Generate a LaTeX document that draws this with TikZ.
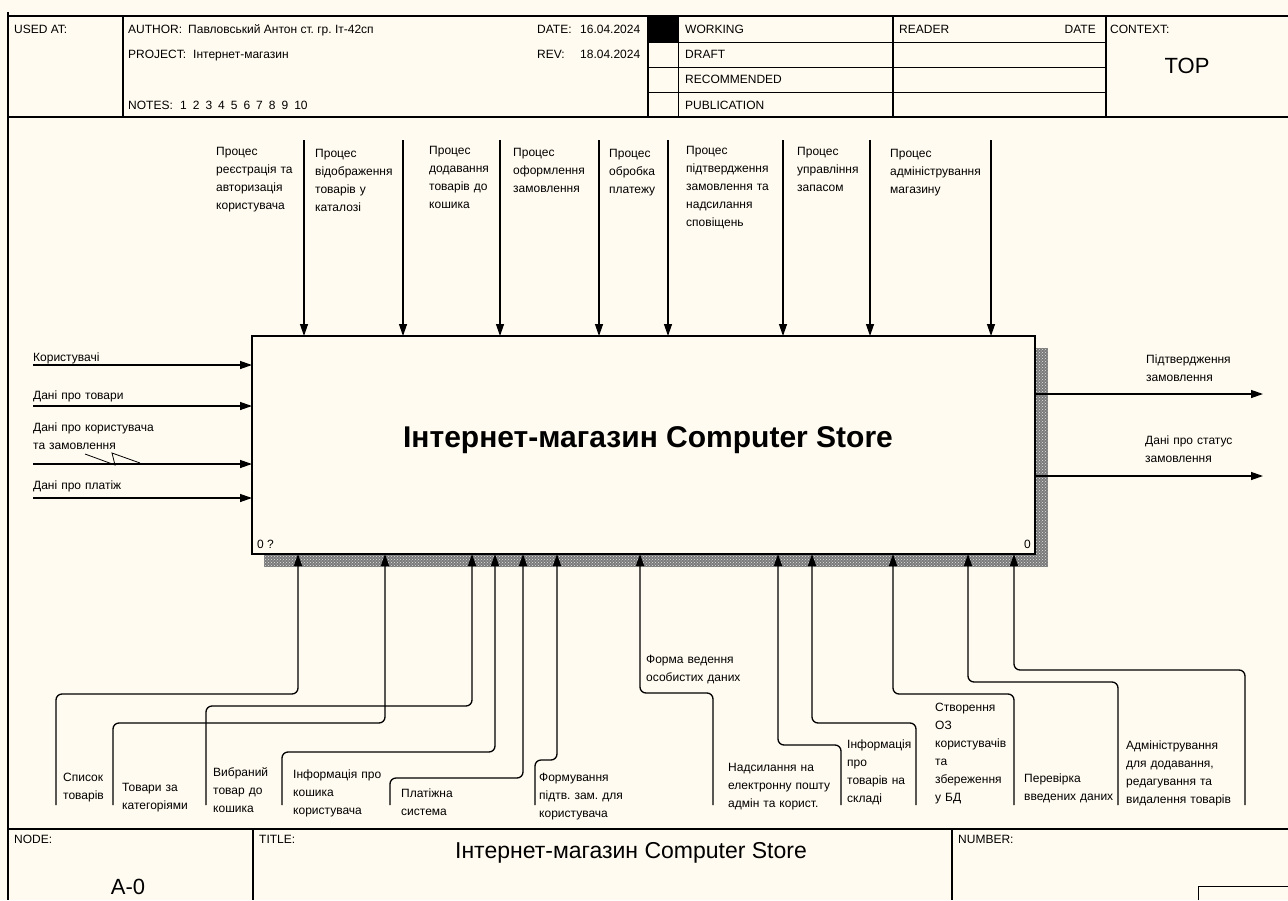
\documentclass[tikz,border=0pt]{standalone}
\usepackage{fontspec}
\setmainfont{Liberation Sans}
\usetikzlibrary{arrows.meta,patterns}
\definecolor{paper}{RGB}{255,251,240}
\frenchspacing
\begin{document}
\begin{tikzpicture}[x=1pt,y=-1pt,
  lbl/.style={anchor=base west, inner sep=0pt, text width=150pt, align=left, font=\fontsize{12}{18}\selectfont},
  hdr/.style={anchor=base west, inner sep=0pt, font=\fontsize{12}{14}\selectfont},
  arr/.style={line width=1.3pt, -{Triangle[length=12pt,width=8pt]}},
  rarr/.style={arr, rounded corners=6pt},
  frm/.style={line width=1.6pt},
  thn/.style={line width=1pt}]
\useasboundingbox (0,0) rectangle (1288,900);
\fill[paper] (0,0) rectangle (1288,900);

% ---------- header ----------
\draw[frm] (8,12) -- (8,900);
\draw[frm] (8,16) -- (1288,16);
\draw[frm] (8,117) -- (1288,117);
\draw[frm] (123,16) -- (123,117);
\draw[frm] (648,16) -- (648,117);
\draw[thn] (678,16) -- (678,117);
\draw[frm] (893,16) -- (893,117);
\draw[frm] (1106,16) -- (1106,117);
\foreach \y in {42,67,92} \draw[thn] (648,\y) -- (1106,\y);
\fill (648,16) rectangle (678,42);

\node[hdr] (usedat) at (14,33) {USED AT:};
\node[hdr] (author) at (128,33) {AUTHOR:};
\node[hdr] (authorv) at (188,33) {Павловський Антон ст. гр. Іт-42сп};
\node[hdr] (project) at (128,58) {PROJECT:};
\node[hdr] (projectv) at (193,58) {Інтернет-магазин};
\node[hdr] (notes) at (128,109) {NOTES:};
\node[hdr] (notesv) at (180,109) {1\hspace{6pt}2\hspace{6pt}3\hspace{6pt}4\hspace{6pt}5\hspace{6pt}6\hspace{6pt}7\hspace{6pt}8\hspace{6pt}9\hspace{6pt}10};
\node[hdr] (date) at (537,33) {DATE:};
\node[hdr] (datev) at (580,33) {16.04.2024};
\node[hdr] (rev) at (537,58) {REV:};
\node[hdr] (revv) at (580,58) {18.04.2024};
\node[hdr] (working) at (685,33) {WORKING};
\node[hdr] (draft) at (685,58) {DRAFT};
\node[hdr] (recommended) at (685,83) {RECOMMENDED};
\node[hdr] (publication) at (685,109) {PUBLICATION};
\node[hdr] (reader) at (899,33) {READER};
\node[hdr, anchor=base east] (rdate) at (1096,33) {DATE};
\node[hdr] (context) at (1110,33) {CONTEXT:};
\node[inner sep=0pt, font=\fontsize{22}{24}\selectfont] (top) at (1187,66) {TOP};

% ---------- main box ----------
\fill[black!52] (264,348) rectangle (1048,567);
\fill[pattern=crosshatch dots, pattern color=white!80!gray] (264,348) rectangle (1048,567);
\node[draw, line width=2pt, fill=paper, anchor=north west, inner sep=0pt, outer sep=0pt,
      minimum width=783pt, minimum height=218pt] (box) at (252,336) {};
\node[font=\bfseries\fontsize{30}{34}\selectfont, inner sep=0pt] (title) at (648,440) {Інтернет-магазин Computer Store};
\node[hdr] (num0) at (257,548) {0 ?};
\node[hdr] (num1) at (1024,548) {0};

% ---------- controls ----------
\foreach \cx [count=\i] in {304,403,500,599,668,783,870,991} {
  \coordinate (c\i) at (\cx,140);
  \draw[arr] (c\i) -- (c\i |- box.north);
}
\node[lbl] (cl1) at (216,155) {Процес\\реєстрація та\\авторизація\\користувача};
\node[lbl] (cl2) at (315,157) {Процес\\відображення\\товарів у\\каталозі};
\node[lbl] (cl3) at (429,154) {Процес\\додавання\\товарів до\\кошика};
\node[lbl] (cl4) at (513,156) {Процес\\оформлення\\замовлення};
\node[lbl] (cl5) at (609,157) {Процес\\обробка\\платежу};
\node[lbl] (cl6) at (686,154) {Процес\\підтвердження\\замовлення та\\надсилання\\сповіщень};
\node[lbl] (cl7) at (797,155) {Процес\\управління\\запасом};
\node[lbl] (cl8) at (890,157) {Процес\\адміністрування\\магазину};

% ---------- inputs ----------
\foreach \iy [count=\i] in {365,406,464,498} {
  \coordinate (i\i) at (33,\iy);
  \draw[arr] (i\i) -- (i\i -| box.west);
}
\node[lbl] (il1) at (33,361) {Користувачі};
\node[lbl] (il2) at (33,399) {Дані про товари};
\node[lbl] (il3) at (33,431) {Дані про користувача\\та замовлення};
\node[lbl] (il4) at (33,489) {Дані про платіж};
\coordinate (sq1) at (85,454);
\coordinate (sq2) at (115,465);
\coordinate (sq3) at (112,453);
\coordinate (sq4) at (140,463);
\draw[line width=0.8pt] (sq1) -- (sq2) -- (sq3) -- (sq4);

% ---------- outputs ----------
\foreach \oy [count=\i] in {394,476} {
  \coordinate (o\i) at (1263,\oy);
  \draw[arr] (o\i -| box.east) -- (o\i);
}
\node[lbl] (ol1) at (1146,363) {Підтвердження\\замовлення};
\node[lbl] (ol2) at (1145,444) {Дані про статус\\замовлення};

% ---------- mechanisms ----------
\foreach \sx/\hy/\ax [count=\i] in {56/694/298, 113/723/385, 206/706/472, 282/752/495,
    390/778/523, 535/760/557, 713/693/640, 841/745/778, 916/723/812, 1014/694/893,
    1118/682/968, 1245/670/1014} {
  \coordinate (m\i) at (\sx,805);
  \coordinate (k\i) at (\ax,\hy);
  \draw[rarr] (m\i) |- (k\i) -- (k\i |- box.south);
}
\node[lbl] (ml1) at (63,781) {Список\\товарів};
\node[lbl] (ml2) at (122,791) {Товари за\\категоріями};
\node[lbl] (ml3) at (213,776) {Вибраний\\товар до\\кошика};
\node[lbl] (ml4) at (293,778) {Інформація про\\кошика\\користувача};
\node[lbl] (ml5) at (401,797) {Платіжна\\система};
\node[lbl] (ml6) at (539,781) {Формування\\підтв. зам. для\\користувача};
\node[lbl] (ml7) at (646,663) {Форма ведення\\особистих даних};
\node[lbl] (ml8) at (728,771) {Надсилання на\\електронну пошту\\адмін та корист.};
\node[lbl] (ml9) at (847,748) {Інформація\\про\\товарів на\\складі};
\node[lbl] (ml10) at (935,711) {Створення\\ОЗ\\користувачів\\та\\збереження\\у БД};
\node[lbl] (ml11) at (1024,782) {Перевірка\\введених даних};
\node[lbl] (ml12) at (1126,749) {Адміністрування\\для додавання,\\редагування та\\видалення товарів};

% ---------- footer ----------
\draw[frm] (8,829) -- (1288,829);
\draw[frm] (253,829) -- (253,900);
\draw[frm] (952,829) -- (952,900);
\draw[thn] (1198,900) -- (1198,886) -- (1288,886);
\node[hdr] (nodel) at (14,843) {NODE:};
\node[hdr] (titlel) at (259,843) {TITLE:};
\node[hdr] (numberl) at (958,843) {NUMBER:};
\node[inner sep=0pt, font=\fontsize{22}{24}\selectfont] (nodev) at (128,887) {A-0};
\node[inner sep=0pt, font=\fontsize{23}{26}\selectfont] (titlev) at (631,853) {Інтернет-магазин Computer Store};
\end{tikzpicture}
\end{document}
